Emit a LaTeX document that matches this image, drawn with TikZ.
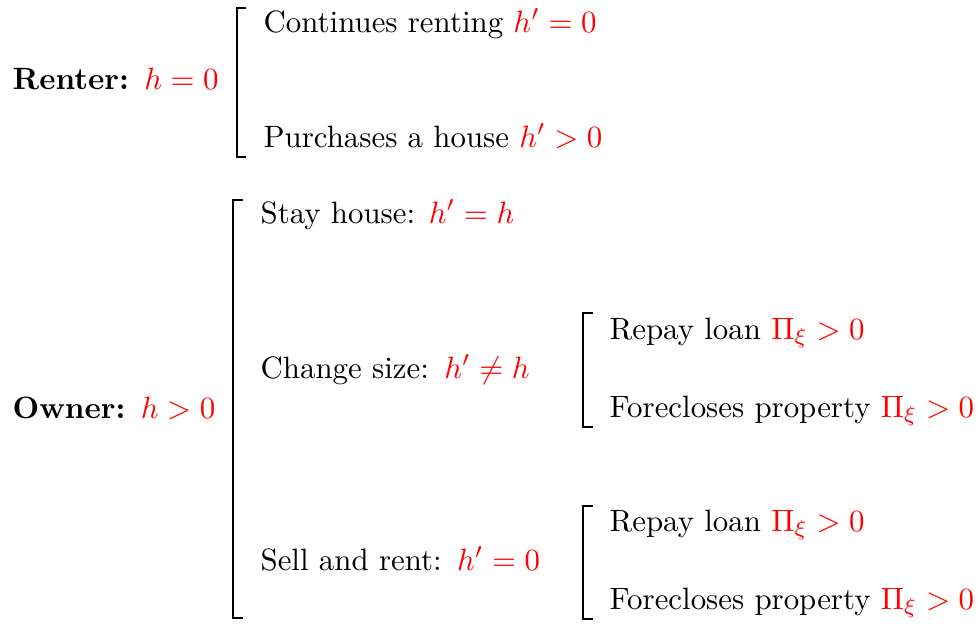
\documentclass[tikz,border=0pt]{standalone}
\usepackage{xcolor}

\begin{document}
\begin{tikzpicture}[x=0.01138cm, y=0.01138cm,
		lbl/.style={anchor=base west, inner sep=0pt},
		brk/.style={line width=0.6pt}]
				\useasboundingbox (0,0) rectangle (979,-623);
				
				% renter
				\node[lbl] (renter) at (12,-89) {\textbf{Renter:}~\,{\color{red}$h=0$}};
				\draw[brk] (246,-8) -- (237,-8) -- (237,-157) -- (246,-157);
				\node[lbl] (rent) at (263,-32) {Continues renting {\color{red}$h'=0$}};
				\node[lbl] (buy) at (263,-147) {Purchases a house {\color{red}$h'>0$}};
				
				% owner
				\node[lbl] (owner) at (12,-418) {\textbf{Owner:}~\,{\color{red}$h>0$}};
				\draw[brk] (243,-200) -- (233,-200) -- (233,-618) -- (243,-618);
				\node[lbl] (stay) at (260,-223) {Stay house: {\color{red}$h'=h$}};
				\node[lbl] (change) at (260,-378) {Change size:~\,{\color{red}$h'\neq h$}};
				\node[lbl] (sell) at (260,-570) {Sell and rent:~\,{\color{red}$h'=0$}};
				
				% change size
				\draw[brk] (593,-313) -- (583,-313) -- (583,-427) -- (593,-427);
				\node[lbl] (repayA) at (609,-339) {Repay loan {\color{red}$\Pi_\xi>0$}};
				\node[lbl] (forecA) at (609,-417) {Forecloses property {\color{red}$\Pi_\xi>0$}};
				
				% sell and rent
				\draw[brk] (593,-506) -- (583,-506) -- (583,-619) -- (593,-619);
				\node[lbl] (repayB) at (609,-531) {Repay loan {\color{red}$\Pi_\xi>0$}};
				\node[lbl] (forecB) at (609,-609) {Forecloses property {\color{red}$\Pi_\xi>0$}};
			\end{tikzpicture}
\end{document}
